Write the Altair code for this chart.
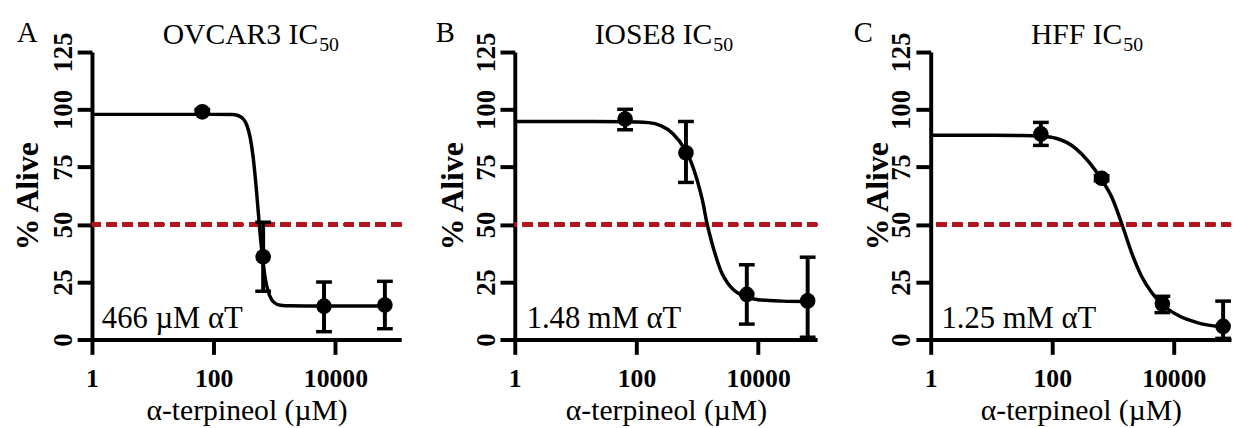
import altair as alt
import pandas as pd

SERIF = "Liberation Serif"
RED = "#b3141c"

# ---------------- data ----------------
# dose concentrations (µM)
conc = [65, 650, 6500, 65000]

# A: OVCAR3
a_mean = [99.0, 36.0, 14.5, 15.0]
a_low = [98.0, 21.0, 3.4, 4.7]
a_high = [100.0, 51.0, 25.0, 25.3]
a_curve_x = [1, 10, 100, 200, 251, 316, 355, 398, 447, 501, 562, 631, 708, 794, 891,
             1000, 1259, 1778, 3162, 10000, 65000]
a_curve_y = [97.9, 97.9, 97.9, 97.8, 97.4, 95.5, 92.8, 87.8, 78.9, 65.7, 50.0, 36.0, 26.2,
             20.5, 17.5, 16.0, 14.9, 14.65, 14.6, 14.6, 14.6]

# B: IOSE8
b_mean = [95.9, 81.2, 19.6, 16.8]
b_low = [91.2, 68.3, 6.7, 1.0]
b_high = [100.1, 94.8, 32.5, 35.8]
b_curve_x = [1, 10, 63, 158, 251, 398, 631, 794, 1000, 1259, 1413, 1585, 1995, 2512, 3162,
             3981, 6310, 10000, 25119, 65000]
b_curve_y = [94.8, 94.8, 94.7, 94.3, 93.0, 89.5, 82.5, 77.0, 69.0, 58.5, 51.5, 46.0, 36.5,
             29.0, 24.5, 21.5, 18.5, 17.3, 16.7, 16.5]

# C: HFF
c_mean = [89.4, 70.1, 15.5, 5.7]
c_low = [84.4, 69.0, 11.7, 0.5]
c_high = [94.4, 71.2, 18.8, 16.7]
c_curve_x = [1, 10, 32, 63, 115, 245, 407, 631, 977, 1413, 2042, 2951, 4365, 6310, 11749,
             25119, 65000]
c_curve_y = [88.8, 88.8, 88.7, 88.4, 87.5, 83.0, 77.0, 70.0, 61.3, 49.9, 37.5, 27.5, 20.3,
             15.5, 10.5, 7.2, 5.4]

x_ticks = [1, 100, 10000]
y_ticks = [0, 25, 50, 75, 100, 125]
x_title = "α-terpineol (µM)"
y_title = "% Alive"

H = 291


def panel(mean, low, high, cx, cy, name, letter, note, xmax, width,
          title_end, ytitle_x, letter_x, note_x):
    pts = pd.DataFrame({"conc": conc, "mean": mean, "low": low, "high": high})
    crv = pd.DataFrame({"conc": cx, "alive": cy})
    one = pd.DataFrame({"k": [0]})

    xs = alt.Scale(type="log", domain=[1, xmax], nice=False)
    ys = alt.Scale(domain=[0, 125], nice=False)
    xax = alt.Axis(values=x_ticks, format="d", grid=False, domainWidth=4,
                   domainColor="black", tickColor="black", tickWidth=4, tickSize=15,
                   labelFont=SERIF, labelFontSize=26, labelFontWeight="bold",
                   labelColor="black", labelPadding=12, labelFlush=False,
                   labelOverlap=False, title=x_title, titleFont=SERIF,
                   titleFontSize=30, titleFontWeight="normal", titleColor="black",
                   titleY=81, titleBaseline="alphabetic")
    yax = alt.Axis(values=y_ticks, grid=False, domainWidth=4, domainColor="black",
                   tickColor="black", tickWidth=4, tickSize=15, labelFont=SERIF,
                   labelFontSize=27, labelFontWeight="bold", labelColor="black",
                   labelAngle=270, labelAlign="center", labelBaseline="alphabetic",
                   labelPadding=6, labelFlush=False, labelOverlap=False,
                   title=y_title, titleFont=SERIF, titleFontSize=32,
                   titleFontWeight="bold", titleColor="black", titleAngle=270,
                   titleAlign="center", titleBaseline="alphabetic", titleX=ytitle_x)

    def X(f):
        return alt.X(f, type="quantitative", scale=xs, axis=xax)

    def Y(f):
        return alt.Y(f, type="quantitative", scale=ys, axis=yax)

    ref = alt.Chart(crv).mark_rule(color=RED, strokeDash=[10, 6], strokeWidth=3.5).encode(
        y=alt.datum(50))
    curve = alt.Chart(crv).mark_line(color="black", strokeWidth=3.5,
                                     interpolate="monotone").encode(x=X("conc"), y=Y("alive"))
    stems = alt.Chart(pts).mark_rule(color="black", strokeWidth=4).encode(
        x=X("conc"), y=Y("low"), y2="high")
    cap_lo = alt.Chart(pts).mark_tick(color="black", orient="horizontal", size=16,
                                      thickness=3.5, opacity=1).encode(x=X("conc"), y=Y("low"))
    cap_hi = alt.Chart(pts).mark_tick(color="black", orient="horizontal", size=16,
                                      thickness=3.5, opacity=1).encode(x=X("conc"), y=Y("high"))
    dots = alt.Chart(pts).mark_circle(color="black", size=250, opacity=1).encode(
        x=X("conc"), y=Y("mean"))

    t_main = alt.Chart(one).mark_text(text=name + " IC", font=SERIF, fontSize=30,
                                      align="right", baseline="alphabetic",
                                      color="black").encode(
        x=alt.value(title_end), y=alt.value(-8.5))
    t_sub = alt.Chart(one).mark_text(text="50", font=SERIF, fontSize=20, align="left",
                                     baseline="alphabetic", color="black").encode(
        x=alt.value(title_end + 1), y=alt.value(-1.5))
    t_letter = alt.Chart(one).mark_text(text=letter, font=SERIF, fontSize=29, align="left",
                                        baseline="alphabetic", color="black").encode(
        x=alt.value(letter_x), y=alt.value(-10))
    t_note = alt.Chart(one).mark_text(text=note, font=SERIF, fontSize=31, align="left",
                                      baseline="alphabetic", color="black").encode(
        x=alt.value(note_x), y=alt.value(279))

    return alt.layer(ref, curve, stems, cap_lo, cap_hi, dots,
                     t_main, t_sub, t_letter, t_note).properties(width=width, height=H)


pA = panel(a_mean, a_low, a_high, a_curve_x, a_curve_y, "OVCAR3", "A", "466 µM αT",
           120500, 313, 229, -55, -76, 10)
pB = panel(b_mean, b_low, b_high, b_curve_x, b_curve_y, "IOSE8", "B", "1.48 mM αT",
           92900, 306, 200, -53, -80, 12)
pC = panel(c_mean, c_low, c_high, c_curve_x, c_curve_y, "HFF", "C", "1.25 mM αT",
           87700, 304, 194, -44, -78, 11)

chart = alt.hconcat(pA, pB, pC, spacing=115, bounds="flush").properties(
    padding={"left": 4, "top": 9, "right": 0, "bottom": 0},
    background="white",
).configure_view(stroke=None)

chart.save("out.html", embed_options={"renderer": "svg", "actions": False})
